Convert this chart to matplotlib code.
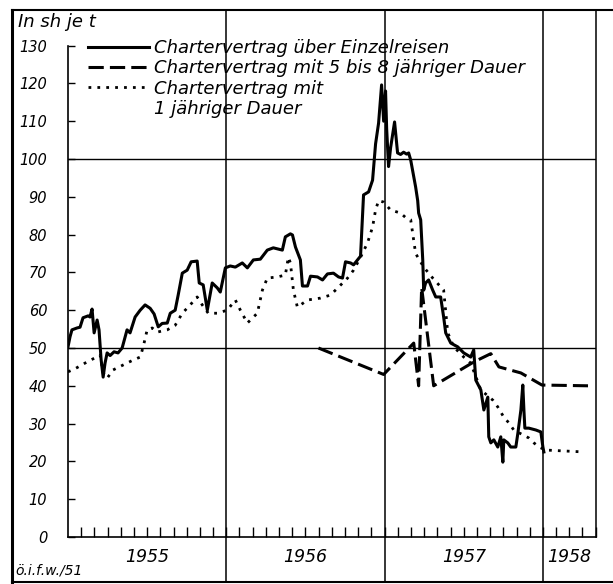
import matplotlib
matplotlib.use("Agg")
import matplotlib.pyplot as plt
from matplotlib.transforms import blended_transform_factory
from matplotlib.lines import Line2D

# Chartervertrag ueber Einzelreisen (decimal year, sh je t)
einzel_x = [1955.000, 1955.013, 1955.025, 1955.057, 1955.076, 1955.095, 1955.127, 1955.139,
            1955.152, 1955.165, 1955.184, 1955.196, 1955.209, 1955.222, 1955.234, 1955.247,
            1955.266, 1955.291, 1955.316, 1955.342, 1955.373, 1955.392, 1955.424, 1955.456,
            1955.487, 1955.519, 1955.544, 1955.570, 1955.595, 1955.627, 1955.646, 1955.677,
            1955.696, 1955.722, 1955.753, 1955.778, 1955.816, 1955.829, 1955.854, 1955.880,
            1955.911, 1955.943, 1955.962, 1955.994, 1956.025, 1956.057, 1956.101, 1956.133,
            1956.171, 1956.215, 1956.259, 1956.297, 1956.354, 1956.373, 1956.405, 1956.418,
            1956.437, 1956.468, 1956.481, 1956.513, 1956.532, 1956.576, 1956.608, 1956.639,
            1956.677, 1956.709, 1956.734, 1956.753, 1956.785, 1956.804, 1956.829, 1956.848,
            1956.861, 1956.867, 1956.899, 1956.924, 1956.943, 1956.962, 1956.981, 1956.994,
            1957.006, 1957.013, 1957.025, 1957.038, 1957.063, 1957.082, 1957.101, 1957.120,
            1957.139, 1957.152, 1957.165, 1957.196, 1957.209, 1957.215, 1957.228, 1957.241,
            1957.247, 1957.259, 1957.278, 1957.304, 1957.323, 1957.354, 1957.373, 1957.386,
            1957.418, 1957.462, 1957.500, 1957.544, 1957.563, 1957.576, 1957.608, 1957.627,
            1957.652, 1957.658, 1957.671, 1957.690, 1957.715, 1957.734, 1957.747, 1957.753,
            1957.778, 1957.797, 1957.829, 1957.842, 1957.861, 1957.873, 1957.880, 1957.886,
            1957.911, 1957.956, 1957.987, 1958.000, 1958.006]
einzel_y = [50.3, 53.0, 54.8, 55.3, 55.5, 58.0, 58.5, 58.2,
            60.3, 54.0, 57.4, 54.8, 47.0, 42.3, 46.0, 48.7,
            48.0, 49.0, 48.7, 50.0, 54.8, 54.0, 58.2, 60.0,
            61.4, 60.5, 59.0, 55.6, 56.5, 56.6, 59.2, 60.0,
            64.0, 69.8, 70.6, 72.8, 73.0, 67.2, 66.7, 60.0,
            67.2, 65.9, 64.8, 71.2, 71.7, 71.4, 72.5, 71.2,
            73.3, 73.5, 75.9, 76.5, 75.9, 79.4, 80.2, 79.9,
            76.7, 73.3, 66.4, 66.4, 69.0, 68.8, 68.0, 69.6,
            69.8, 68.8, 68.5, 72.8, 72.5, 72.0, 73.3, 74.3,
            85.7, 90.5, 91.3, 94.4, 104.0, 109.5, 119.6, 110.0,
            118.0, 108.0, 98.0, 103.0, 109.8, 101.6, 101.2, 101.8,
            101.3, 101.6, 99.7, 92.6, 89.0, 85.7, 83.9, 73.3,
            65.3, 67.2, 68.0, 65.3, 63.5, 63.5, 58.2, 54.0,
            51.3, 50.3, 48.7, 47.6, 49.5, 41.5, 38.9, 33.6,
            37.0, 26.5, 24.9, 25.7, 23.8, 26.5, 19.8, 25.7,
            24.9, 23.8, 23.8, 27.5, 33.6, 40.2, 33.6, 28.8,
            28.8, 28.3, 27.8, 23.8, 22.5]

# Chartervertrag mit 5 bis 8 jaehriger Dauer
lang_x = [1956.582, 1956.994, 1957.184, 1957.215, 1957.234, 1957.310,
          1957.563, 1957.671, 1957.722, 1957.861, 1957.994, 1958.285]
lang_y = [50.0, 43.0, 51.3, 40.0, 66.0, 40.0,
          46.3, 48.5, 45.0, 43.4, 40.2, 40.0]

# Chartervertrag mit 1 jaehriger Dauer
jahr_x = [1955.000, 1955.044, 1955.120, 1955.203, 1955.222, 1955.247, 1955.285, 1955.348,
          1955.411, 1955.456, 1955.475, 1955.500, 1955.532, 1955.563, 1955.627, 1955.677,
          1955.722, 1955.772, 1955.816, 1955.848, 1955.886, 1955.943, 1956.006, 1956.057,
          1956.089, 1956.133, 1956.196, 1956.228, 1956.259, 1956.323, 1956.373, 1956.392,
          1956.405, 1956.424, 1956.449, 1956.513, 1956.595, 1956.658, 1956.709, 1956.766,
          1956.804, 1956.848, 1956.892, 1956.924, 1956.943, 1956.962, 1956.994, 1957.038,
          1957.101, 1957.133, 1957.165, 1957.196, 1957.247, 1957.304, 1957.373, 1957.399,
          1957.437, 1957.500, 1957.544, 1957.608, 1957.684, 1957.715, 1957.753, 1957.785,
          1957.816, 1957.911, 1957.943, 1957.975, 1958.019, 1958.259]
jahr_y = [43.7, 44.5, 46.3, 48.1, 43.4, 42.0, 44.2, 45.5,
          46.8, 47.6, 50.3, 54.8, 55.3, 54.2, 54.8, 56.0,
          59.2, 61.4, 63.5, 61.4, 59.2, 59.2, 60.0, 62.7,
          60.0, 56.6, 59.2, 65.3, 68.5, 68.8, 69.3, 74.0,
          72.5, 65.3, 60.8, 62.7, 63.2, 64.0, 66.1, 68.5,
          70.6, 74.0, 77.8, 82.0, 86.5, 89.0, 88.6, 86.5,
          85.7, 84.5, 83.9, 75.0, 71.4, 68.5, 65.3, 54.0,
          50.3, 47.6, 46.0, 38.9, 36.2, 34.4, 31.7, 30.2,
          28.3, 26.2, 24.9, 23.8, 23.0, 22.5]

years = [1955, 1956, 1957, 1958]
labels = ["Chartervertrag über Einzelreisen",
          "Chartervertrag mit 5 bis 8 jähriger Dauer",
          "Chartervertrag mit",
          "1 jähriger Dauer"]

W, H = 613, 584
fig = plt.figure(figsize=(W / 100, H / 100), dpi=100)
ax = fig.add_axes([68 / W, 1 - 537 / H, (596 - 68) / W, (537 - 10) / H])

ax.plot(einzel_x, einzel_y, color="black", lw=2.2, label=labels[0])
ax.plot(lang_x, lang_y, color="black", lw=2.2, dashes=(5, 2), label=labels[1])
ax.plot(jahr_x, jahr_y, color="black", lw=2.0, linestyle=(0, (1, 2.2)), label=labels[2])
# second line of the third legend entry, no handle
ax.plot([], [], color="none", label=labels[3])

ax.set_xlim(1955, 1958 + 53 / 158)
ax.set_ylim(0, 527 / 3.78)

for v in [50, 100]:
    ax.axhline(v, color="black", lw=1.0, zorder=0)

# year separators run through the label strip down to the frame
tr = blended_transform_factory(ax.transData, fig.transFigure)
for yr in years[1:]:
    ax.plot([yr, yr], [1 - 582 / H, 1 - 10 / H], color="black", lw=1.1,
            transform=tr, clip_on=False, zorder=0)

ax.spines["top"].set_visible(False)
ax.spines["left"].set_bounds(0, 130)
ax.spines["left"].set_linewidth(1.2)
ax.spines["bottom"].set_linewidth(1.2)
ax.spines["right"].set_linewidth(1.1)

ax.set_yticks(range(0, 131, 10))
ax.set_yticklabels([str(v) for v in range(0, 131, 10)], fontstyle="italic", fontsize=10.5)
ax.tick_params(axis="y", direction="in", length=5, width=1, pad=15)
ax.set_xticks([])
ax.set_xticks([1955 + m / 12 for m in range(1, 41)], minor=True)
ax.tick_params(axis="x", which="minor", direction="in", length=7, width=1)

# year labels centred in each year band
xmax = ax.get_xlim()[1]
for yr in years:
    mid = (yr + min(yr + 1, xmax)) / 2
    ax.text(mid, 1 - 557 / H, str(yr), transform=tr, ha="center", va="center",
            fontsize=12.5, fontstyle="italic")

fig.text(18 / W, 1 - 22 / H, "In sh je t", fontsize=13, fontstyle="italic", va="center")
fig.text(15 / W, 1 - 571 / H, "ö.i.f.w./51", fontsize=10, fontstyle="italic", va="center")

ax.legend(loc="upper left", bbox_to_anchor=(88 / W, 1 - 39 / H),
          bbox_transform=fig.transFigure, frameon=False,
          prop={"style": "italic", "size": 13}, handlelength=3.4,
          handletextpad=0.25, labelspacing=0.13, borderpad=0, borderaxespad=0)

# outer frame
for xs, ys, lw in [([12, W], [10, 10], 1.5), ([12, 12], [10, 582], 2.2), ([12, W], [582, 582], 1.5)]:
    fig.add_artist(Line2D([x / W for x in xs], [1 - y / H for y in ys], color="black", lw=lw))

fig.savefig("out.png", dpi=100, facecolor="white")
